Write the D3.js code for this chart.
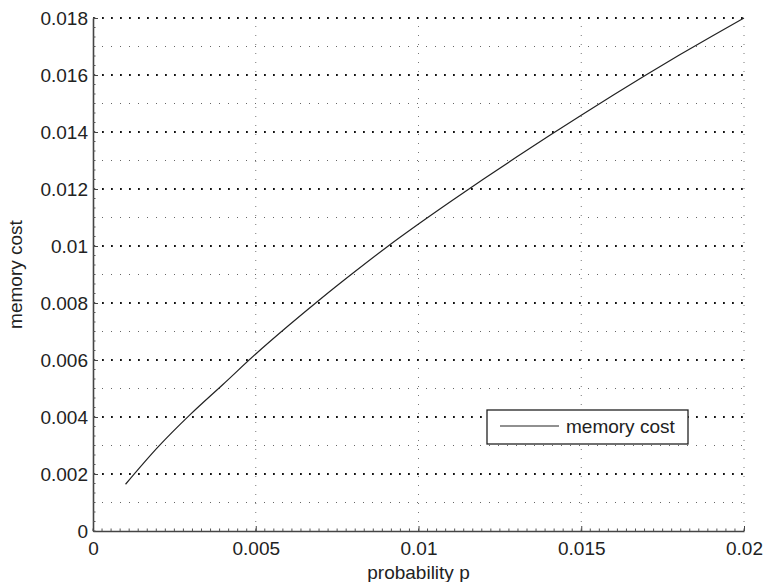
<!DOCTYPE html>
<html lang="en">
<head>
<meta charset="UTF-8">
<title>memory cost</title>
<style>
    body { margin: 0; padding: 0; background: #fff; overflow: hidden; }
    svg text { font-family: "Liberation Sans", Arial, Helvetica, sans-serif; fill: #222; }
</style>
</head>
<body>
<svg id="graph"></svg>
<script src="https://cdn.jsdelivr.net/npm/d3@7/dist/d3.min.js"></script>
<script>
    // values
    const probability = [0.001, 0.002, 0.003, 0.004, 0.005, 0.006, 0.007, 0.008, 0.009, 0.010,
        0.011, 0.012, 0.013, 0.014, 0.015, 0.016, 0.017, 0.018, 0.019, 0.020];
    const memoryCost = [0.00164, 0.00295, 0.0041, 0.00515, 0.00621, 0.0072, 0.00815, 0.00906, 0.00994, 0.01077,
        0.01157, 0.01235, 0.01311, 0.01386, 0.01459, 0.01531, 0.01601, 0.01669, 0.01735, 0.0180];
    const xTicks = [0, 0.005, 0.01, 0.015, 0.02];
    const xTickLabels = ["0", "0.005", "0.01", "0.015", "0.02"];
    const yTicks = [0, 0.002, 0.004, 0.006, 0.008, 0.01, 0.012, 0.014, 0.016, 0.018];
    const yTickLabels = ["0", "0.002", "0.004", "0.006", "0.008", "0.01", "0.012", "0.014", "0.016", "0.018"];
    const yMinorGrid = [0.001, 0.003, 0.005, 0.007, 0.009, 0.011, 0.013, 0.015, 0.017];
    const seriesName = "memory cost";

    const w = 763, h = 582;
    const margin = {left: 93, right: 19, top: 18, bottom: 51};

    const svg = d3.select("#graph").attr("width", w).attr("height", h);

    const x = d3.scaleLinear().domain([0, 0.02]).range([margin.left, w - margin.right]);
    const y = d3.scaleLinear().domain([0, 0.018]).range([h - margin.bottom, margin.top]);

    // minor grid (horizontal only)
    svg.append("g").selectAll("line").data(yMinorGrid).enter().append("line")
        .attr("x1", x(0)).attr("x2", x(0.02))
        .attr("y1", d => y(d)).attr("y2", d => y(d))
        .attr("stroke", "#666").attr("stroke-width", 1)
        .attr("stroke-dasharray", "1,8");

    // major vertical grid
    svg.append("g").selectAll("line").data(xTicks.slice(1)).enter().append("line")
        .attr("x1", d => x(d)).attr("x2", d => x(d))
        .attr("y1", y(0)).attr("y2", y(0.018))
        .attr("stroke", "#777").attr("stroke-width", 1)
        .attr("stroke-dasharray", "1,8");

    // major horizontal grid
    svg.append("g").selectAll("line").data(yTicks.slice(1)).enter().append("line")
        .attr("x1", x(0)).attr("x2", x(0.02))
        .attr("y1", d => y(d)).attr("y2", d => y(d))
        .attr("stroke", "#111").attr("stroke-width", 1.8)
        .attr("stroke-dasharray", "1.8,7.2");

    // axes: major ticks pointing inwards, minor ticks too
    const xMinor = d3.range(0, 0.02 + 1e-9, 0.005 / 18);
    const yMinor = d3.range(0, 0.018 + 1e-9, 0.002 / 6);

    const xAxis = d3.axisBottom(x).tickValues(xTicks)
        .tickFormat((d, i) => xTickLabels[i]).tickSizeInner(-5).tickSizeOuter(0).tickPadding(11);
    const gx = svg.append("g").attr("transform", `translate(0,${y(0)})`).call(xAxis);
    gx.selectAll("text").attr("font-size", 19).style("font-family", "Liberation Sans, Arial, sans-serif");

    const yAxis = d3.axisLeft(y).tickValues(yTicks)
        .tickFormat((d, i) => yTickLabels[i]).tickSizeInner(-5).tickSizeOuter(0).tickPadding(5);
    const gy = svg.append("g").attr("transform", `translate(${x(0)},0)`).call(yAxis);
    gy.selectAll("text").attr("font-size", 19).style("font-family", "Liberation Sans, Arial, sans-serif");

    [gx, gy].forEach(g => {
        g.select(".domain").attr("stroke", "#444").attr("stroke-width", 1.6);
        g.selectAll(".tick line").attr("stroke", "#444");
        g.selectAll(".tick text").attr("fill", "#222");
    });

    gx.append("g").selectAll("line").data(xMinor).enter().append("line")
        .attr("x1", d => x(d)).attr("x2", d => x(d)).attr("y1", 0).attr("y2", -2.5)
        .attr("stroke", "#555").attr("stroke-width", 1);
    gy.append("g").selectAll("line").data(yMinor).enter().append("line")
        .attr("y1", d => y(d)).attr("y2", d => y(d)).attr("x1", 0).attr("x2", 2.5)
        .attr("stroke", "#555").attr("stroke-width", 1);

    // the curve
    const line = d3.line()
        .x((d, i) => x(probability[i]))
        .y(d => y(d))
        .curve(d3.curveMonotoneX);
    svg.append("path")
        .datum(memoryCost)
        .attr("d", line)
        .attr("fill", "none")
        .attr("stroke", "#222")
        .attr("stroke-width", 1.2);

    // axis labels
    svg.append("text")
        .attr("x", x(0.01)).attr("y", 579)
        .attr("text-anchor", "middle").attr("font-size", 19)
        .text("probability p");
    svg.append("text")
        .attr("transform", `translate(22,${(y(0) + y(0.018)) / 2}) rotate(-90)`)
        .attr("text-anchor", "middle").attr("font-size", 19)
        .text("memory cost");

    // legend
    const legend = svg.append("g").attr("transform", "translate(487,410)");
    legend.append("rect")
        .attr("width", 201).attr("height", 34)
        .attr("fill", "#fff").attr("stroke", "#222").attr("stroke-width", 1.3);
    legend.append("line")
        .attr("x1", 13).attr("x2", 72).attr("y1", 16).attr("y2", 16)
        .attr("stroke", "#222").attr("stroke-width", 1.2);
    legend.append("text")
        .attr("x", 79).attr("y", 23).attr("font-size", 19)
        .text(seriesName);
</script>
</body>
</html>
